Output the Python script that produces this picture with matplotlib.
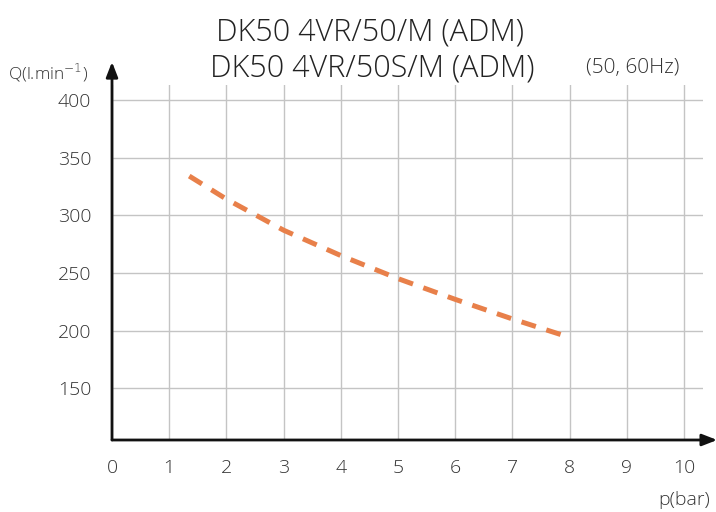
import matplotlib
matplotlib.use('Agg')
import matplotlib.pyplot as plt
import numpy as np

# pressure (bar) vs flow (l/min)
p_bar = [1.35, 2, 3, 4, 5, 6, 7, 8]
q_flow = [334, 314, 287, 265, 245, 227, 210, 194]

x_ticks = np.arange(0, 11, 1)
y_ticks = [150, 200, 250, 300, 350, 400]

plt.rcParams['font.family'] = ['Open Sans', 'DejaVu Sans']
plt.rcParams['font.weight'] = 'light'

fig = plt.figure(figsize=(7.16, 5.12), dpi=100)
ax = fig.add_axes([112 / 716, 72 / 512, 591 / 716, 355 / 512])

ax.plot(p_bar, q_flow, color='#E8804A', lw=3.6, dashes=(3, 2.2), solid_capstyle='butt')

ax.set_xlim(0, 10.33)
ax.set_ylim(105, 413)
ax.set_xticks(x_ticks)
ax.set_yticks(y_ticks)
ax.grid(True, color='#c4c4c4', lw=1)
ax.set_axisbelow(True)
ax.tick_params(length=0, labelsize=14, labelcolor='#333333')
ax.tick_params(axis='x', pad=14)
ax.tick_params(axis='y', pad=15)

for s in ax.spines.values():
    s.set_visible(False)

# axes drawn as arrows
ax.annotate('', xy=(1.024, 0), xytext=(0, 0), xycoords='axes fraction',
            arrowprops=dict(arrowstyle='-|>,head_length=0.9,head_width=0.35', color='#111111', lw=2, shrinkA=0, shrinkB=0))
ax.annotate('', xy=(0, 1.065), xytext=(0, 0), xycoords='axes fraction',
            arrowprops=dict(arrowstyle='-|>,head_length=0.9,head_width=0.35', color='#111111', lw=2, shrinkA=0, shrinkB=0))

fig.text(370 / 716, 1 - 32 / 512, 'DK50 4VR/50/M (ADM)', ha='center', va='center', fontsize=22, color='#222222')
fig.text(372 / 716, 1 - 68 / 512, 'DK50 4VR/50S/M (ADM)', ha='center', va='center', fontsize=22, color='#222222')
fig.text(633 / 716, 1 - 68 / 512, '(50, 60Hz)', ha='center', va='center', fontsize=15, color='#333333')
fig.text(8 / 716, 1 - 73 / 512, 'Q(l.min$^{-1}$)', ha='left', va='center', fontsize=12.5, color='#333333')
fig.text(710 / 716, 1 - 500 / 512, 'p(bar)', ha='right', va='center', fontsize=14, color='#333333')

fig.savefig('out.png', dpi=100)
